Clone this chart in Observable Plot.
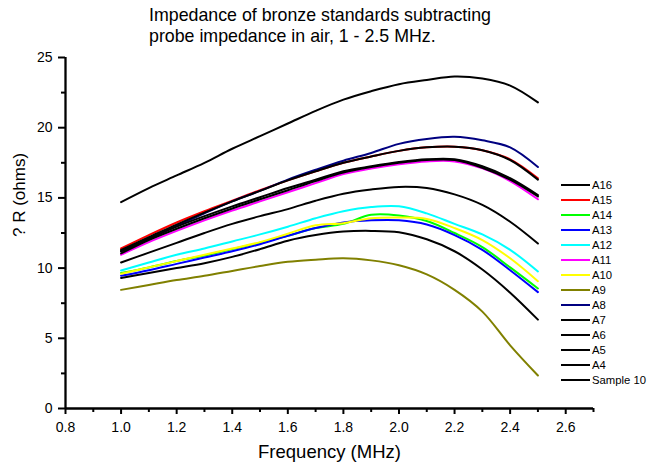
<!DOCTYPE html>
<html><head><meta charset="utf-8">
<script src="https://cdn.jsdelivr.net/npm/d3@7"></script>
<script src="https://cdn.jsdelivr.net/npm/@observablehq/plot@0.6"></script>
<style>
body{margin:0;background:#fff;}
#wrap{position:relative;width:648px;height:470px;font-family:"Liberation Sans",Arial,sans-serif;color:#000;}
#chart svg{display:block;}
#title{position:absolute;left:149px;top:5px;font-size:17.8px;line-height:21px;white-space:nowrap;}
#legend{position:absolute;left:561px;top:177px;font-size:11.3px;}
.row{height:15px;display:flex;align-items:center;white-space:nowrap;}
.sw{width:29px;height:2px;margin-right:2px;}
</style></head><body>
<div id="wrap"><div id="chart"></div>
<div id="title">Impedance of bronze standards subtracting<br>probe impedance in air, 1 - 2.5 MHz.</div>
<div id="legend"></div></div>
<script>
const freq = [1.0,1.1,1.2,1.3,1.4,1.5,1.6,1.7,1.8,1.9,2.0,2.1,2.2,2.3,2.4,2.5];
const names = ["A16","A15","A14","A13","A12","A11","A10","A9","A8","A7","A6","A5","A4","Sample 10"];
const colors = ["#000000","#ff0000","#00ff00","#0000ff","#00ffff","#ff00ff","#ffff00","#808000","#000080","#000000","#000000","#000000","#000000","#000000"];
const a16 = [11.3,12.2,13.1,13.95,14.75,15.5,16.25,16.9,17.5,17.95,18.35,18.6,18.65,18.4,17.7,16.3];
const a15 = [11.4,12.35,13.25,14.05,14.8,15.55,16.25,16.9,17.5,17.95,18.35,18.6,18.65,18.4,17.75,16.4];
const a14 = [9.65,10.05,10.5,10.9,11.35,11.8,12.3,12.85,13.15,13.8,13.75,13.35,12.5,11.5,10.05,8.55];
const a13 = [9.45,9.85,10.3,10.75,11.2,11.7,12.3,12.85,13.25,13.4,13.4,13.1,12.35,11.3,9.85,8.29];
const a12 = [9.83,10.4,10.95,11.4,11.9,12.4,12.95,13.55,14.05,14.35,14.4,13.9,13.15,12.4,11.3,9.76];
const a11 = [10.95,11.85,12.65,13.4,14.1,14.75,15.4,16.05,16.7,17.1,17.4,17.6,17.6,17.1,16.2,14.9];
const a10 = [9.6,10.05,10.5,10.95,11.4,11.85,12.45,13.05,13.2,13.55,13.6,13.5,12.85,12.0,10.7,9.07];
const a9 = [8.45,8.8,9.15,9.45,9.8,10.15,10.45,10.6,10.7,10.55,10.2,9.55,8.45,6.9,4.5,2.35];
const a8 = [11.2,12.1,13.0,13.9,14.75,15.5,16.3,17.0,17.65,18.2,18.85,19.2,19.35,19.1,18.6,17.2];
const a7 = [11.2,12.1,12.95,13.7,14.4,15.05,15.7,16.3,16.9,17.25,17.55,17.75,17.75,17.25,16.4,15.2];
const a6 = [11.05,12.0,12.8,13.55,14.25,14.9,15.55,16.2,16.8,17.2,17.5,17.7,17.7,17.15,16.3,15.1];
const a5 = [10.4,11.1,11.8,12.5,13.15,13.7,14.2,14.8,15.3,15.6,15.78,15.7,15.25,14.5,13.3,11.75];
const a4 = [9.3,9.65,10.0,10.35,10.8,11.35,11.95,12.35,12.6,12.65,12.55,12.05,11.2,9.9,8.25,6.33];
const sample10 = [14.7,15.7,16.6,17.5,18.5,19.4,20.3,21.2,22.0,22.6,23.1,23.4,23.65,23.5,23.0,21.8];
const xMajor = [0.8,1.0,1.2,1.4,1.6,1.8,2.0,2.2,2.4,2.6];
const xMinor = [0.9,1.1,1.3,1.5,1.7,1.9,2.1,2.3,2.5,2.7];
const yMajor = [0,5,10,15,20,25];
const yMinor = [2.5,7.5,12.5,17.5,22.5];

const valuesList = [a16,a15,a14,a13,a12,a11,a10,a9,a8,a7,a6,a5,a4,sample10];
const series = names.map((name, i) => ({
  name, color: colors[i],
  rows: freq.map((f, j) => ({f, v: valuesList[i][j]}))
}));
// coloured series first, black ones drawn on top
const drawOrder = series.filter(s => s.color !== "#000000").concat(series.filter(s => s.color === "#000000"));

const chart = Plot.plot({
  width: 648, height: 470,
  marginLeft: 65, marginRight: 55, marginTop: 57, marginBottom: 62,
  x: {domain: [0.8, 2.7]},
  y: {domain: [0, 25]},
  style: {fontFamily: "Liberation Sans, Arial, sans-serif", fontSize: "14px", color: "#000", background: "#fff"},
  marks: [
    Plot.axisX({ticks: xMinor, tickSize: 4, tickFormat: () => "", strokeWidth: 2, label: null}),
    Plot.axisX({ticks: xMajor, tickSize: 6, tickPadding: 8, tickFormat: d3.format(".1f"), strokeWidth: 2, label: null, fontSize: 14}),
    Plot.axisY({ticks: yMinor, tickSize: 4, tickFormat: () => "", strokeWidth: 2, label: null}),
    Plot.axisY({ticks: yMajor, tickSize: 7, tickPadding: 6, tickFormat: d3.format("d"), strokeWidth: 2, label: null, fontSize: 14}),
    Plot.ruleX([0.8], {strokeWidth: 2.3}),
    Plot.ruleY([0], {strokeWidth: 2.3}),
    ...drawOrder.map(s => Plot.line(s.rows, {x: "f", y: "v", stroke: s.color, strokeWidth: 2, curve: "catmull-rom"})),
    Plot.text(["Frequency (MHz)"], {text: d => d, frameAnchor: "bottom", dy: 49, fontSize: 18.5}),
    Plot.text(["? R (ohms)"], {text: d => d, frameAnchor: "left", dx: -46, dy: 4, rotate: -90, fontSize: 17})
  ]
});
document.getElementById("chart").appendChild(chart);

const legend = document.getElementById("legend");
series.forEach(s => {
  const row = document.createElement("div");
  row.className = "row";
  const sw = document.createElement("div");
  sw.className = "sw";
  sw.style.background = s.color;
  const lab = document.createElement("span");
  lab.textContent = s.name;
  row.appendChild(sw); row.appendChild(lab);
  legend.appendChild(row);
});
</script>
</body></html>
